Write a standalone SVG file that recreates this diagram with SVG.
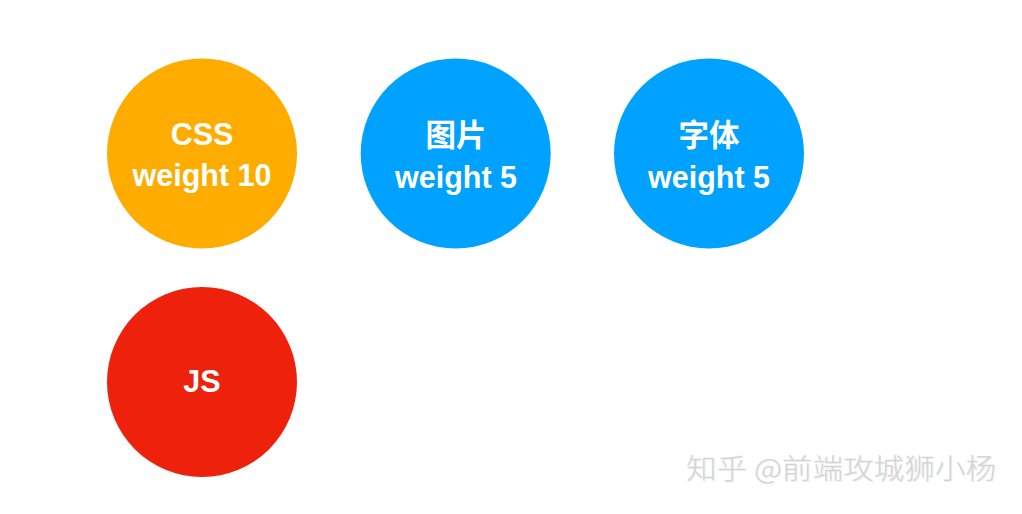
<svg xmlns="http://www.w3.org/2000/svg" width="1022" height="514" viewBox="0 0 1022 514">
<style>
.t{font-family:"Liberation Sans","Noto Sans CJK SC",Arial,sans-serif;font-weight:bold;font-size:30.5px;fill:#fff;text-anchor:middle}
.wm{font-family:"Noto Sans CJK SC","Liberation Sans",sans-serif;font-size:28px;font-weight:300;fill:#d4d4d4}
</style>
<rect width="1022" height="514" fill="#fff"/>
<g id="node-css">
<circle cx="202" cy="153.5" r="95" fill="#FEAC00"/>
<text class="t" x="202" y="145">CSS</text>
<text class="t" x="202" y="186">weight 10</text>
</g>
<g id="node-img">
<circle cx="455.7" cy="153.5" r="95" fill="#00A2FF"/>
<text class="t" x="456" y="146">图片</text>
<text class="t" x="456" y="188">weight 5</text>
</g>
<g id="node-font">
<circle cx="709" cy="153.5" r="95" fill="#00A2FF"/>
<text class="t" x="709" y="146">字体</text>
<text class="t" x="709" y="188">weight 5</text>
</g>
<g id="node-js">
<circle cx="202" cy="382" r="95" fill="#EE220C"/>
<text class="t" x="202" y="392">JS</text>
</g>
<g id="connectors"></g>
<g id="watermark">
<text class="wm" x="686" y="479" fill="#8a8a8a" opacity="0.4" textLength="310" lengthAdjust="spacingAndGlyphs" transform="translate(1,1)">知乎 @前端攻城狮小杨</text>
<text class="wm" x="686" y="479" textLength="310" lengthAdjust="spacingAndGlyphs">知乎 @前端攻城狮小杨</text>
</g>
</svg>
